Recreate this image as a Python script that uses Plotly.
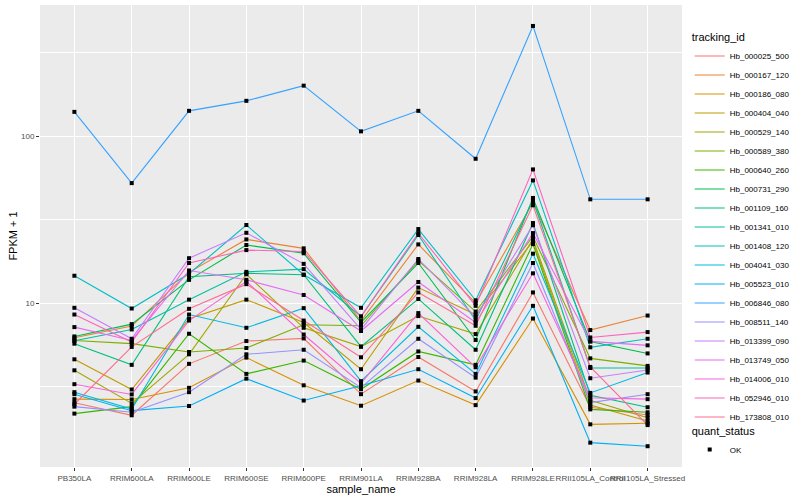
import plotly.graph_objects as go

samples = ["PB350LA", "RRIM600LA", "RRIM600LE", "RRIM600SE", "RRIM600PE",
           "RRIM901LA", "RRIM928BA", "RRIM928LA", "RRIM928LE",
           "RRII105LA_Control", "RRII105LA_Stressed"]

tracking_ids = ["Hb_000025_500", "Hb_000167_120", "Hb_000186_080", "Hb_000404_040",
                "Hb_000529_140", "Hb_000589_380", "Hb_000640_260", "Hb_000731_290",
                "Hb_001109_160", "Hb_001341_010", "Hb_001408_120", "Hb_004041_030",
                "Hb_005523_010", "Hb_006846_080", "Hb_008511_140", "Hb_013399_090",
                "Hb_013749_050", "Hb_014006_010", "Hb_052946_010", "Hb_173808_010"]

colors = ["#F8766D", "#EA8331", "#D89000", "#C09B00", "#A3A500", "#7CAE00",
          "#39B600", "#00BB4E", "#00BF7D", "#00C1A3", "#00BFC4", "#00BAE0",
          "#00B0F6", "#35A2FF", "#9590FF", "#C77CFF", "#E76BF3", "#FA62DB",
          "#FF62BC", "#FF6C91"]

# FPKM + 1 per gene, in sample order
hb_000025_500 = [2.53, 2.13, 4.33, 5.93, 6.15, 2.85, 4.76, 2.96, 11.6, 2.38, 2.14]
hb_000167_120 = [6.21, 7.29, 15.3, 24.1, 21.3, 7.81, 22.5, 10.0, 40.1, 6.90, 8.43]
hb_000186_080 = [2.66, 2.65, 3.11, 4.72, 3.22, 2.43, 3.44, 2.45, 8.09, 1.88, 1.91]
hb_000404_040 = [4.61, 3.04, 8.06, 10.5, 7.66, 4.02, 12.4, 8.55, 23.5, 2.45, 1.97]
hb_000529_140 = [3.96, 2.51, 4.94, 14.9, 7.12, 5.49, 8.37, 6.53, 24.2, 2.62, 2.06]
hb_000589_380 = [5.98, 5.72, 5.10, 5.39, 7.42, 7.32, 18.0, 8.91, 25.1, 4.67, 4.21]
hb_000640_260 = [2.18, 2.40, 6.56, 3.77, 4.53, 3.05, 5.14, 4.27, 22.6, 2.31, 2.22]
hb_000731_290 = [6.32, 7.49, 13.8, 22.3, 19.9, 7.66, 17.4, 6.02, 42.7, 5.90, 5.00]
hb_001109_160 = [5.72, 4.27, 14.4, 15.1, 14.8, 5.49, 10.6, 5.26, 30.2, 2.81, 2.38]
hb_001341_010 = [5.96, 6.96, 10.5, 15.4, 16.0, 8.32, 25.6, 7.87, 41.5, 4.09, 4.09]
hb_001408_120 = [14.6, 9.29, 15.0, 29.4, 14.8, 9.38, 27.8, 10.4, 54.4, 5.44, 6.12]
hb_004041_030 = [2.93, 2.32, 8.55, 7.12, 9.34, 3.41, 7.22, 3.77, 19.8, 2.90, 3.84]
hb_005523_010 = [2.85, 2.27, 2.42, 3.53, 2.61, 3.20, 4.02, 2.70, 9.64, 1.46, 1.39]
hb_006846_080 = [140, 52.4, 142, 163, 201, 107, 142, 73.3, 458, 41.9, 41.9]
hb_008511_140 = [2.40, 2.22, 2.93, 4.94, 5.26, 3.12, 6.12, 3.58, 17.4, 2.54, 2.85]
hb_013399_090 = [9.38, 6.12, 18.6, 26.4, 17.2, 6.96, 18.4, 8.25, 29.3, 3.55, 3.98]
hb_013749_050 = [7.19, 5.98, 15.7, 13.8, 11.2, 6.81, 13.4, 7.66, 26.3, 5.90, 5.59]
hb_014006_010 = [3.27, 2.84, 7.87, 13.5, 6.49, 3.30, 8.72, 4.13, 15.1, 2.71, 2.66]
hb_052946_010 = [8.55, 5.85, 17.4, 20.8, 20.4, 8.32, 26.3, 9.64, 63.3, 6.23, 6.71]
hb_173808_010 = [2.48, 5.47, 9.25, 13.0, 7.87, 4.74, 11.6, 7.32, 38.6, 4.15, 1.86]

series = [hb_000025_500, hb_000167_120, hb_000186_080, hb_000404_040, hb_000529_140,
          hb_000589_380, hb_000640_260, hb_000731_290, hb_001109_160, hb_001341_010,
          hb_001408_120, hb_004041_030, hb_005523_010, hb_006846_080, hb_008511_140,
          hb_013399_090, hb_013749_050, hb_014006_010, hb_052946_010, hb_173808_010]

FONT = "Liberation Sans, Arial, sans-serif"

fig = go.Figure()
for name, col, vals in zip(tracking_ids, colors, series):
    fig.add_trace(go.Scatter(x=samples, y=vals, mode="lines", name=name,
                             line=dict(color=col, width=1.1), legend="legend"))

all_x, all_y = [], []
for vals in series:
    all_x += samples
    all_y += vals
fig.add_trace(go.Scatter(x=all_x, y=all_y, mode="markers", name="OK",
                         marker=dict(symbol="square", size=4, color="black"),
                         legend="legend2", showlegend=True))

fig.update_layout(
    width=800, height=500,
    margin=dict(l=40, r=116, t=5, b=33),
    paper_bgcolor="white", plot_bgcolor="#EBEBEB",
    font=dict(family=FONT, color="black"),
    legend=dict(title=dict(text="tracking_id", font=dict(size=11)),
                font=dict(size=8), x=1.012, xanchor="left", y=0.952, yanchor="top",
                bgcolor="rgba(255,255,255,0)", tracegroupgap=0, itemwidth=30),
    legend2=dict(title=dict(text="quant_status", font=dict(size=11)),
                 font=dict(size=8), x=1.012, xanchor="left", y=0.10, yanchor="top",
                 bgcolor="rgba(255,255,255,0)", itemwidth=30),
)

fig.update_xaxes(type="category", categoryorder="array", categoryarray=samples,
                 range=[-0.6, 10.6], showgrid=True, gridcolor="white", gridwidth=1.1,
                 zeroline=False, showline=False, tickangle=0, automargin=False,
                 ticks="outside", ticklen=3, tickcolor="#333333",
                 tickfont=dict(size=8, color="#4D4D4D"),
                 title=dict(text="sample_name", font=dict(size=11), standoff=0))

fig.update_yaxes(type="log", range=[0.0185, 2.7864], tickvals=[10, 100],
                 ticktext=["10", "100"], showgrid=True, gridcolor="white", gridwidth=1.1,
                 zeroline=False, showline=False, automargin=False,
                 ticks="outside", ticklen=3, tickcolor="#333333",
                 tickfont=dict(size=8, color="#4D4D4D"),
                 minor=dict(tickvals=[3.1623, 31.623, 316.23], showgrid=True,
                            gridcolor="white", gridwidth=0.5, ticks=""),
                 title=dict(text="FPKM + 1", font=dict(size=11), standoff=1))

fig.write_html("out.html", config={"displayModeBar": False},
               post_script="document.body.style.margin='0';document.body.style.padding='0';")
